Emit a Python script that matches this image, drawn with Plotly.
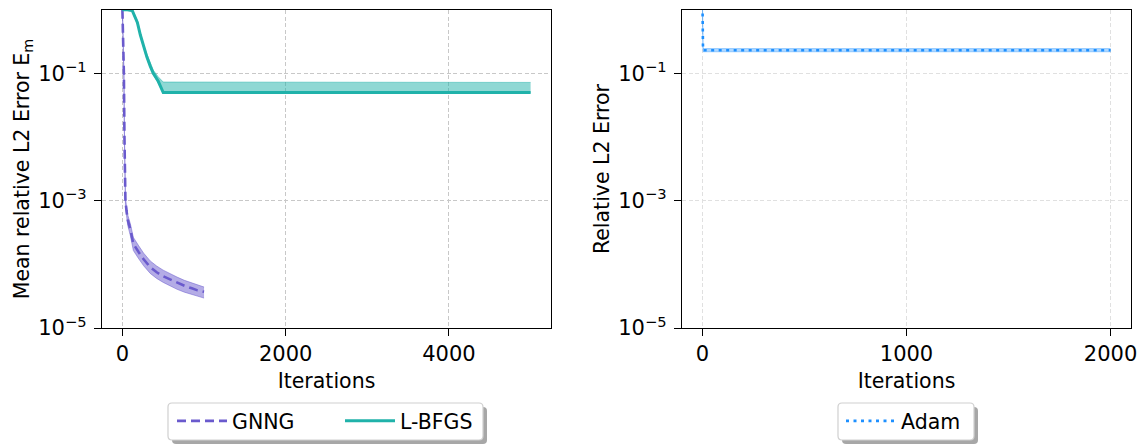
import plotly.graph_objects as go

# ---------------- data ----------------
gnng_iter = [0, 5, 10, 18, 25, 30, 37, 50, 65, 98, 134, 200, 260, 341, 420, 500, 580, 670, 760, 850, 920, 1000]
gnng_mean = [1.0, 0.6, 0.3, 0.1, 0.01, 0.003, 1.0e-3, 7.0e-4, 5.0e-4, 3.5e-4, 2.1e-4, 1.55e-4, 1.2e-4,
             9.0e-5, 7.5e-5, 6.5e-5, 5.8e-5, 5.1e-5, 4.6e-5, 4.2e-5, 3.9e-5, 3.7e-5]
gnng_upper = [1.05, 0.67, 0.35, 0.118, 0.012, 0.0036, 1.15e-3, 8.2e-4, 6.0e-4, 4.3e-4, 2.65e-4, 1.95e-4, 1.5e-4,
              1.13e-4, 9.4e-5, 8.1e-5, 7.1e-5, 6.3e-5, 5.6e-5, 5.1e-5, 4.7e-5, 4.4e-5]
gnng_lower = [0.95, 0.53, 0.25, 0.082, 0.0085, 0.0025, 0.87e-3, 5.9e-4, 4.1e-4, 2.8e-4, 1.65e-4, 1.22e-4, 0.95e-4,
              7.2e-5, 6.0e-5, 5.2e-5, 4.6e-5, 4.05e-5, 3.65e-5, 3.35e-5, 3.1e-5, 2.95e-5]

lbfgs_iter = [0, 60, 120, 150, 183, 220, 256, 300, 341, 378, 439, 500, 5000]
lbfgs_mean = [1.0, 1.0, 0.97, 0.8, 0.63, 0.4, 0.27, 0.18, 0.13, 0.1, 0.075, 0.05, 0.05]
lbfgs_upper = [1.02, 1.02, 1.0, 0.84, 0.67, 0.43, 0.29, 0.2, 0.145, 0.112, 0.088, 0.073, 0.072]
lbfgs_lower = [0.98, 0.98, 0.94, 0.77, 0.6, 0.38, 0.255, 0.17, 0.123, 0.095, 0.07, 0.049, 0.049]

adam_iter = [0, 3, 10, 2000]
adam_mean = [1.5, 0.23, 0.23, 0.23]
adam_upper = [1.6, 0.245, 0.245, 0.245]
adam_lower = [1.4, 0.218, 0.218, 0.218]

ytick_vals = [1e-5, 1e-3, 1e-1]
ytick_text = ["10<sup>\u22125</sup>", "10<sup>\u22123</sup>", "10<sup>\u22121</sup>"]
x1_ticks = [0, 2000, 4000]
x2_ticks = [0, 1000, 2000]

PURPLE = "#6a5acd"
TEAL = "#20b2aa"
BLUE = "#1e90ff"
FONT = "DejaVu Sans"

fig = go.Figure()


def add_band(x, lo, hi, rgba, xa, ya):
    fig.add_trace(go.Scatter(x=x, y=lo, mode="lines", line=dict(width=1, color=rgba),
                             showlegend=False, hoverinfo="skip", xaxis=xa, yaxis=ya))
    fig.add_trace(go.Scatter(x=x, y=hi, mode="lines", line=dict(width=1, color=rgba),
                             fill="tonexty", fillcolor=rgba, showlegend=False,
                             hoverinfo="skip", xaxis=xa, yaxis=ya))


add_band(gnng_iter, gnng_lower, gnng_upper, "rgba(106,90,205,0.5)", "x", "y")
fig.add_trace(go.Scatter(x=gnng_iter, y=gnng_mean, mode="lines", name="GNNG",
                         line=dict(color=PURPLE, width=2.6, dash="9px,5px"),
                         xaxis="x", yaxis="y", legend="legend"))
add_band(lbfgs_iter, lbfgs_lower, lbfgs_upper, "rgba(32,178,170,0.5)", "x", "y")
fig.add_trace(go.Scatter(x=lbfgs_iter, y=lbfgs_mean, mode="lines", name="L-BFGS",
                         line=dict(color=TEAL, width=3),
                         xaxis="x", yaxis="y", legend="legend"))

add_band(adam_iter, adam_lower, adam_upper, "rgba(30,144,255,0.35)", "x2", "y2")
fig.add_trace(go.Scatter(x=adam_iter, y=adam_mean, mode="lines", name="Adam",
                         line=dict(color=BLUE, width=2.6, dash="3px,4.5px"),
                         xaxis="x2", yaxis="y2", legend="legend2"))

W, H = 1138, 444
PLOT_BOTTOM, PLOT_H = 328, 318
TICK = 21
LAB = 20.5
axis_common = dict(showline=True, linecolor="black", linewidth=1.3, mirror=True,
                   ticks="outside", ticklen=7, tickcolor="black", tickwidth=1.2,
                   zeroline=False, tickfont=dict(size=TICK, color="black"),
                   griddash="4px,2.5px", gridwidth=1, ticklabeloverflow="allow",
                   automargin=False)


def px_x(p):
    return p / W


def px_y(p):
    return (PLOT_BOTTOM - p) / PLOT_H


def rounded_box(x0, y0, x1, y1, r=4):
    # pixel box -> paper-coordinate SVG path with rounded corners
    X = px_x
    Y = px_y
    return (f"M {X(x0 + r)},{Y(y0)} L {X(x1 - r)},{Y(y0)} Q {X(x1)},{Y(y0)} {X(x1)},{Y(y0 + r)} "
            f"L {X(x1)},{Y(y1 - r)} Q {X(x1)},{Y(y1)} {X(x1 - r)},{Y(y1)} "
            f"L {X(x0 + r)},{Y(y1)} Q {X(x0)},{Y(y1)} {X(x0)},{Y(y1 - r)} "
            f"L {X(x0)},{Y(y0 + r)} Q {X(x0)},{Y(y0)} {X(x0 + r)},{Y(y0)} Z")


# legend frames (matplotlib style, with shadow)
legend_frames = [(168, 403, 483, 440), (838, 403, 974, 440)]
shapes = []
for (x0, y0, x1, y1) in legend_frames:
    shapes.append(dict(type="path", xref="paper", yref="paper",
                       path=rounded_box(x0 + 4, y0 + 4, x1 + 4, y1 + 4),
                       fillcolor="rgba(120,120,120,0.65)", line=dict(width=0), layer="above"))
    shapes.append(dict(type="path", xref="paper", yref="paper",
                       path=rounded_box(x0, y0, x1, y1),
                       fillcolor="white", line=dict(width=1.2, color="#d0d0d0"), layer="above"))

fig.update_layout(
    width=W, height=H,
    margin=dict(l=0, r=0, t=10, b=116, autoexpand=False),
    paper_bgcolor="white", plot_bgcolor="white",
    font=dict(family=FONT, size=LAB, color="black"),
    shapes=shapes,
    xaxis=dict(domain=[102 / W, 551 / W], range=[-250, 5250], tickvals=x1_ticks,
               title=dict(text="Iterations", standoff=8, font=dict(size=LAB)),
               gridcolor="#c8c8c8", anchor="y", **axis_common),
    yaxis=dict(type="log", range=[-5, -0.005], tickvals=ytick_vals, ticktext=ytick_text,
               ticklabelstandoff=3,
               title=dict(text="Mean relative L2 Error E<sub>m</sub>", standoff=3, font=dict(size=LAB)),
               gridcolor="#c8c8c8", anchor="x", **axis_common),
    xaxis2=dict(domain=[682 / W, 1131 / W], range=[-100, 2100], tickvals=x2_ticks,
                title=dict(text="Iterations", standoff=8, font=dict(size=LAB)),
                gridcolor="#e0e0e0", anchor="y2", **axis_common),
    yaxis2=dict(type="log", range=[-5, -0.005], tickvals=ytick_vals, ticktext=ytick_text,
                ticklabelstandoff=3,
                title=dict(text="Relative L2 Error", standoff=3, font=dict(size=LAB)),
                gridcolor="#e0e0e0", anchor="x2", **axis_common),
    legend=dict(orientation="h", x=px_x(172), xanchor="left", y=px_y(401), yanchor="top",
                bgcolor="rgba(0,0,0,0)", borderwidth=0, traceorder="normal",
                font=dict(size=LAB), itemwidth=50, entrywidth=103, entrywidthmode="pixels"),
    legend2=dict(orientation="h", x=px_x(841), xanchor="left", y=px_y(401), yanchor="top",
                 bgcolor="rgba(0,0,0,0)", borderwidth=0,
                 font=dict(size=LAB), itemwidth=50),
)

fig.write_html("out.html", post_script="document.body.style.margin='0';",
               config={"displayModeBar": False})
